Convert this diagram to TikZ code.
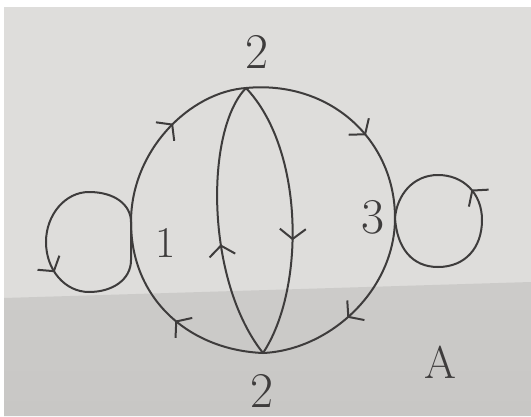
\documentclass[tikz,border=0pt]{standalone}
\usetikzlibrary{arrows.meta,decorations.markings}
\definecolor{ink}{RGB}{62,60,60}
\definecolor{paper}{RGB}{222,221,219}
\definecolor{shadow}{RGB}{200,199,197}
\tikzset{
  edge/.style={draw=ink,line width=2pt,line cap=round},
  chev/.style={decoration={markings,mark=at position #1 with {\arrow[ink,line width=2pt]{Straight Barb[length=10pt,width=26pt]}}},postaction={decorate}},
  lbl/.style={text=ink,inner sep=0pt,font=\fontsize{50}{50}\selectfont},
  pt/.style={inner sep=0pt,minimum size=0pt}
}
\begin{document}
\begin{tikzpicture}[x=1pt,y=-1pt]
\useasboundingbox (0,0) rectangle (531,416);
% background paper
\fill[white] (0,0) rectangle (531,416);
\fill[paper] (4,7) rectangle (531,416);
\shade[top color=shadow!80!paper,bottom color=shadow] (4,298) -- (531,282) -- (531,416) -- (4,416) -- cycle;
% vertices
\coordinate (T) at (246,88);
\coordinate (B) at (263,353);
\coordinate (L) at (131,222);
\coordinate (R) at (395,218);
% outer circle edges
\draw[edge,chev=0.57] (L) .. controls (131,150) and (190,92) .. (T);
\draw[edge,chev=0.6] (T) .. controls (330,80) and (395,140) .. (R);
\draw[edge,chev=0.55] (R) .. controls (395,290) and (330,350) .. (B);
\draw[edge,chev=0.46] (B) .. controls (190,350) and (131,300) .. (L);
% inner edges
\draw[edge,chev=0.42] (B) .. controls (205,280) and (205,130) .. (T);
\draw[edge,chev=0.58] (T) .. controls (305,150) and (305,290) .. (B);
% loops
\draw[edge,chev=0.54] (L) .. controls (131,205) and (115,192) .. (89,192)
  .. controls (65,192) and (46,215) .. (46,242)
  .. controls (46,270) and (65,292) .. (89,292)
  .. controls (112,292) and (131,280) .. (131,260) -- (L);
\draw[edge,chev=0.63] (R) .. controls (397,248) and (412,267) .. (438,267)
  .. controls (465,267) and (482,248) .. (482,220)
  .. controls (482,193) and (463,175) .. (438,175)
  .. controls (413,175) and (397,195) .. (R);
% labels
\node[lbl] (l2t) at (257,52) {2};
\node[lbl] (l2b) at (262,391) {2};
\node[lbl,font=\fontsize{44}{44}\selectfont] (l1) at (166,243) {1};
\node[lbl] (l3) at (373,217) {3};
\node[lbl,font=\fontsize{46}{46}\selectfont] (lA) at (440,362) {A};
\end{tikzpicture}
\end{document}
